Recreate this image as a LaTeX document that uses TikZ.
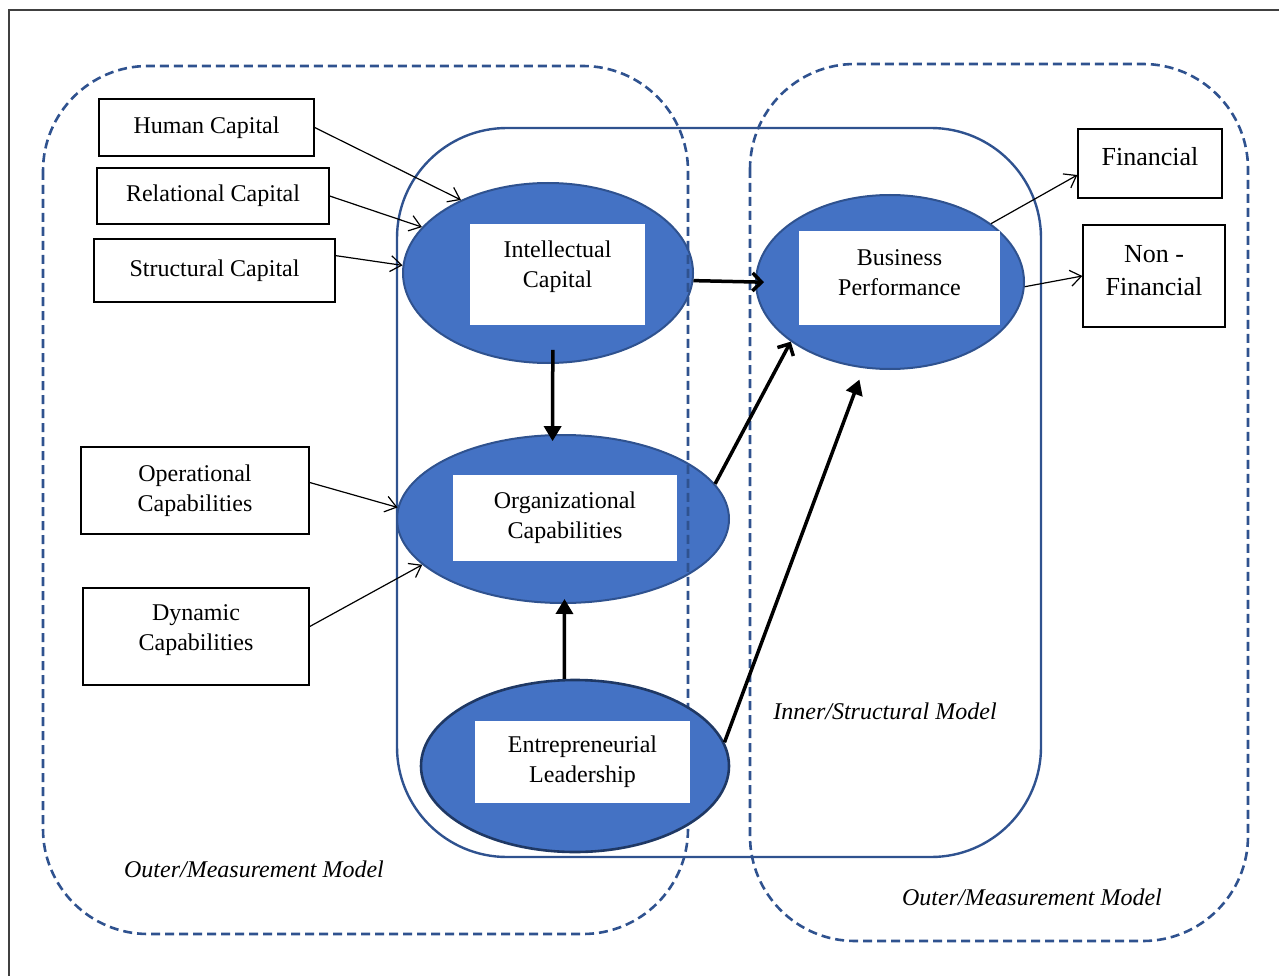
\documentclass[tikz,border=0pt]{standalone}
\usepackage{fontspec}
\setmainfont{Liberation Serif}
\usetikzlibrary{shapes.geometric, arrows.meta}
\definecolor{accfill}{HTML}{4472C4}
\definecolor{accline}{HTML}{2F528F}
\definecolor{accdark}{HTML}{1F3864}
\tikzset{
  latent/.style={ellipse, draw=accline, line width=2pt, fill=accfill, inner sep=0pt},
  lbox/.style={fill=white, align=center, inner sep=0pt, font=\fontsize{24}{30}\selectfont},
  ind/.style={draw, line width=1.3pt, align=center, inner sep=0pt, font=\fontsize{24}{30}\selectfont},
  model/.style={draw=accline, line width=2.6pt, dash pattern=on 9pt off 5pt, rounded corners=105pt},
  refl/.style={line width=1.2pt, -{Straight Barb[length=11pt,width=16pt]}},
  structopen/.style={line width=3.5pt, -{Straight Barb[length=9pt,width=18pt]}},
  struct/.style={line width=3.5pt, -{Triangle[length=15pt,width=17pt]}},
  lbl/.style={font=\fontsize{24}{30}\selectfont\itshape}
}

\begin{document}
\begin{tikzpicture}[x=1pt, y=-1pt]
  \useasboundingbox (0,0) rectangle (1279,976);
  % page frame
  \draw[line width=2pt, black!75] (9,976) -- (9,10) -- (1279,10);
  % latent constructs (under the model frames)
  \node[latent, minimum width=290, minimum height=180] (ic) at (548,273) {};
  \node[lbox, text depth=21pt, minimum width=175, minimum height=101] (ictxt) at (557.5,274.5) {Intellectual\\Capital};
  \node[latent, minimum width=332, minimum height=168] (oc) at (563,519) {};
  \node[lbox, minimum width=224, minimum height=86] (octxt) at (565,518) {Organizational\\Capabilities};
  \node[latent, minimum width=268, minimum height=174] (bp) at (890,282) {};
  \node[lbox, text depth=10pt, minimum width=201, minimum height=94] (bptxt) at (899.5,278) {Business\\Performance};
  % model frames
  \draw[model] (43,66) rectangle (688,934);
  \draw[model] (750,64) rectangle (1248,941);
  \draw[draw=accline, line width=2.4pt, rounded corners=110pt] (397,128) rectangle (1041,857);
  \node[latent, draw=accdark, line width=2.6pt, minimum width=308, minimum height=172] (el) at (575,766) {};
  \node[lbox, minimum width=215, minimum height=82] (eltxt) at (582.5,762) {Entrepreneurial\\Leadership};
  % indicators
  \node[ind, minimum width=215, minimum height=57] (hc) at (206.5,127.5) {Human Capital};
  \node[ind, minimum width=232, minimum height=56] (rc) at (213,196) {Relational Capital};
  \node[ind, minimum width=241, minimum height=63] (sc) at (214.5,270.5) {Structural Capital};
  \node[ind, minimum width=228, minimum height=87] (opc) at (195,490.5) {Operational\\Capabilities};
  \node[ind, text depth=17pt, minimum width=226, minimum height=97] (dyc) at (196,636.5) {Dynamic\\Capabilities};
  \node[ind, font=\fontsize{26}{33}\selectfont, text depth=14pt, minimum width=144, minimum height=69] (fin) at (1150,163.5) {Financial};
  \node[ind, font=\fontsize{26}{33}\selectfont, text depth=12pt, minimum width=142, minimum height=102] (nfin) at (1154,276) {Non -\\Financial};
  % measurement arrows
  \draw[refl] (hc.east) -- (ic.140);
  \draw[refl] (rc.east) -- (ic.160);
  \draw[refl] (sc.7) -- (ic.177);
  \draw[refl] (opc.4) -- (oc.176);
  \draw[refl] (dyc.5) -- (oc.198);
  \draw[refl] (bp.30) -- (fin.189);
  \draw[refl] (bp.-2) -- (nfin.west);
  % structural paths
  \draw[structopen, shorten >=-9pt] (ic.-3) -- (bp.west);
  \draw[struct, shorten <=-14pt, shorten >=-7pt] (ic.-87) -- (oc.97);
  \draw[structopen] (oc.13) -- (bp.211);
  \draw[struct, shorten >=-5pt] (el.97) -- (oc.-89);
  \draw[struct, shorten >=12pt] (el.9) -- (bp.253);
  % model labels
  \node[lbl] (inner) at (885,711) {Inner/Structural Model};
  \node[lbl] (outerl) at (254,869) {Outer/Measurement Model};
  \node[lbl] (outerr) at (1032,897) {Outer/Measurement Model};
\end{tikzpicture}
\end{document}
